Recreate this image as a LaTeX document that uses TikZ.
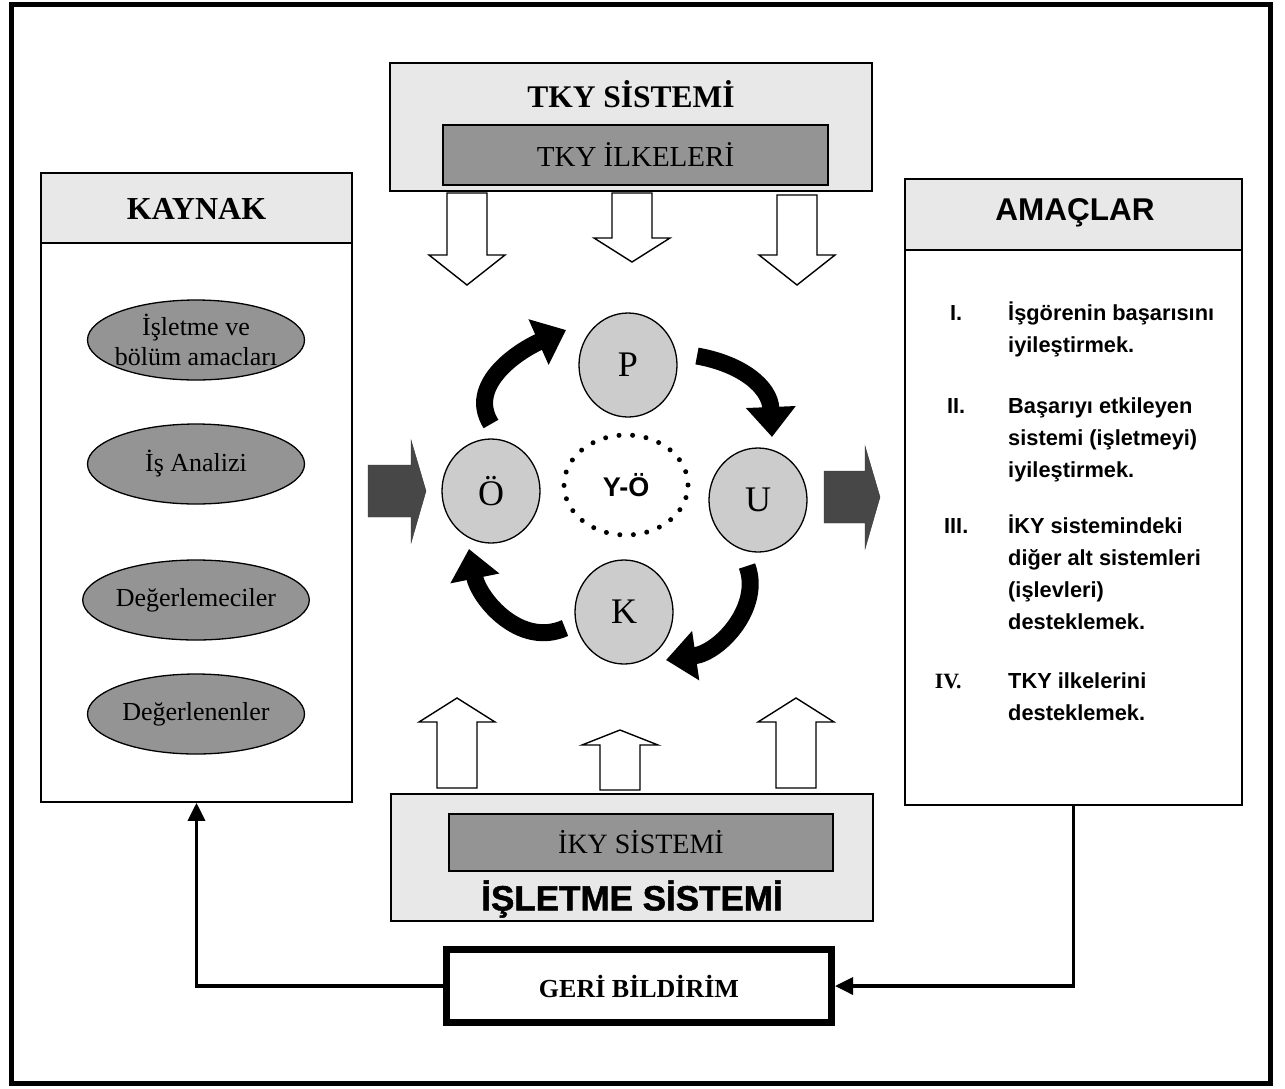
\documentclass[tikz,border=0pt]{standalone}
\usepackage{fontspec}
\setmainfont{Liberation Serif}
\setsansfont{Liberation Sans}
\newfontfamily\heavyfont[BoldFeatures={FakeBold=1.4}]{Liberation Sans}
\usetikzlibrary{shapes.geometric,arrows.meta}

\tikzset{
  panel/.style={draw, line width=1.6pt},
  lightbox/.style={draw, line width=1.6pt, fill=black!9},
  darkbox/.style={draw, line width=1.6pt, fill=black!42},
  oval/.style={ellipse, draw, line width=1.3pt, fill=black!42, inner sep=0pt,
    minimum width=217, minimum height=80, align=center,
    font=\fontsize{26}{30}\selectfont},
  letter/.style={ellipse, draw, line width=1.3pt, fill=black!20,
    minimum width=98, minimum height=104, font=\fontsize{36}{36}\selectfont},
  hollow/.style={draw, line width=1.4pt, fill=white},
  solidarr/.style={fill=black!72, draw=black!80},
  cyc/.style={line width=17pt, -{Triangle[length=30pt,width=48pt]}},
  feed/.style={line width=3.5pt, -{Triangle[length=18pt,width=17pt]}},
  item/.style={anchor=base west, inner sep=0pt,
    font=\sffamily\bfseries\fontsize{21.8}{32}\selectfont},
}

% hollow block arrows: x, tail, head base, tip
\newcommand{\blockarr}[4]{%
  \draw[hollow] (#1-20,#2) -- (#1+20,#2) -- (#1+20,#3) -- (#1+38,#3)
    -- (#1,#4) -- (#1-38,#3) -- (#1-20,#3) -- cycle;}
% dark arrows pointing right: tail x, head base x, tip x, y
\newcommand{\darkarr}[4]{%
  \draw[solidarr] (#1,#4-26) -- (#2,#4-26) -- (#2,#4-51) -- (#3,#4)
    -- (#2,#4+52) -- (#2,#4+26) -- (#1,#4+26) -- cycle;}
% numbered aim: number, lines
\newcommand{\aim}[2]{\begin{tabular}[t]{@{}l@{\hspace{40pt}}l@{}}\makebox[24pt]{#1} & #2\end{tabular}}

\begin{document}
\begin{tikzpicture}[x=1pt,y=-1pt]
%\draw[help lines,step=50](0,0)grid(1285,1088);
\useasboundingbox (0,0) rectangle (1285,1088);
\draw[line width=5pt] (11,4) rectangle (1270,1083);

% KAYNAK
\fill[black!9] (41,173) rectangle (352,243);
\node[panel, minimum width=311, minimum height=629] (kaynak) at (196.5,487.5) {};
\draw[line width=1.6pt] (41,243) -- (352,243);
\node[font=\bfseries\fontsize{32}{32}\selectfont] (kaynakt) at (196.5,209) {KAYNAK};
\node[oval, inner xsep=-7pt] (e1) at (196,340) {İşletme ve\\bölüm amacları};
\node[oval] (e2) at (196,464) {İş Analizi};
\node[oval] (e3) at (196,600) {Değerlemeciler};
\node[oval] (e4) at (196,714) {Değerlenenler};

% AMACLAR
\fill[black!9] (905,179) rectangle (1242,250);
\node[panel, minimum width=337, minimum height=626] (amac) at (1073.5,492) {};
\draw[line width=1.6pt] (905,250) -- (1242,250);
\node[font=\sffamily\bfseries\fontsize{31.5}{32}\selectfont] (amact) at (1075,213) {AMAÇLAR};
\node[item] (m1) at (944,320) {\aim{I.}{İşgörenin başarısını\\ & iyileştirmek.}};
\node[item] (m2) at (944,413) {\aim{II.}{Başarıyı etkileyen\\ & sistemi (işletmeyi)\\ & iyileştirmek.}};
\node[item] (m3) at (944,533) {\aim{III.}{İKY sistemindeki\\ & diğer alt sistemleri\\ & (işlevleri)\\ & desteklemek.}};
\node[item] (m4) at (944,688) {\aim{\rmfamily\hspace*{-16pt}IV.}{TKY ilkelerini\\ & desteklemek.}};

% TKY
\node[lightbox, minimum width=482, minimum height=128] (tky) at (631,127) {};
\node[font=\bfseries\fontsize{31.5}{32}\selectfont] (tkyt) at (631,94) {TKY SİSTEMİ};
\node[darkbox, minimum width=385, minimum height=60,
  font=\fontsize{29}{29}\selectfont] (ilke) at (635.5,155) {TKY İLKELERİ};

% ISLETME
\node[lightbox, minimum width=482, minimum height=127] (isl) at (632,857.5) {};
\node[darkbox, minimum width=384, minimum height=57,
  font=\fontsize{28}{28}\selectfont] (iky) at (641,842.5) {İKY SİSTEMİ};
\node[font=\heavyfont\bfseries\fontsize{35}{35}\selectfont] (islt) at (632,899) {İŞLETME SİSTEMİ};

% hollow arrows
\blockarr{467}{193}{255}{285}
\blockarr{632}{193}{238}{262}
\blockarr{797}{195}{255}{285}
\blockarr{457}{788}{722}{698}
\blockarr{620}{790}{745}{730}
\blockarr{796}{788}{722}{698}

% dark arrows
\darkarr{368}{411}{426}{491}
\darkarr{824}{865}{880}{497}

% cycle
\node[ellipse, draw, line width=5pt, line cap=round, dash pattern=on 0pt off 13.6pt,
  minimum width=124, minimum height=100,
  font=\sffamily\bfseries\fontsize{27}{27}\selectfont] (yo) at (626,485) {Y-Ö};
\node[letter] (P) at (628,365) {P};
\node[letter] (O) at (491,491) {Ö};
\node[letter] (U) at (758,500) {U};
\node[letter] (K) at (624,612) {K};

\coordinate (c1a) at (491,424); \coordinate (c1b) at (566,330);
\coordinate (c2a) at (697,356); \coordinate (c2b) at (772,437);
\coordinate (c3a) at (747,566); \coordinate (c3b) at (666,660);
\coordinate (c4a) at (565,628); \coordinate (c4b) at (469,549);
\draw[cyc] (c1a) .. controls +(-24,-38) and +(-50,22) .. (c1b);
\draw[cyc] (c2a) .. controls +(45,8) and +(-2,-50) .. (c2b);
\draw[cyc] (c3a) .. controls +(15,40) and +(55,-8) .. (c3b);
\draw[cyc] (c4a) .. controls +(-45,20) and +(10,50) .. (c4b);

% feedback
\node[draw, line width=7pt, minimum width=385, minimum height=73,
  font=\bfseries\fontsize{26}{26}\selectfont] (geri) at (639,986) {GERİ BİLDİRİM};
\draw[feed] (amac.south) |- (geri.east);
\draw[feed] (geri.west) -| (kaynak.south);

\end{tikzpicture}
\end{document}
